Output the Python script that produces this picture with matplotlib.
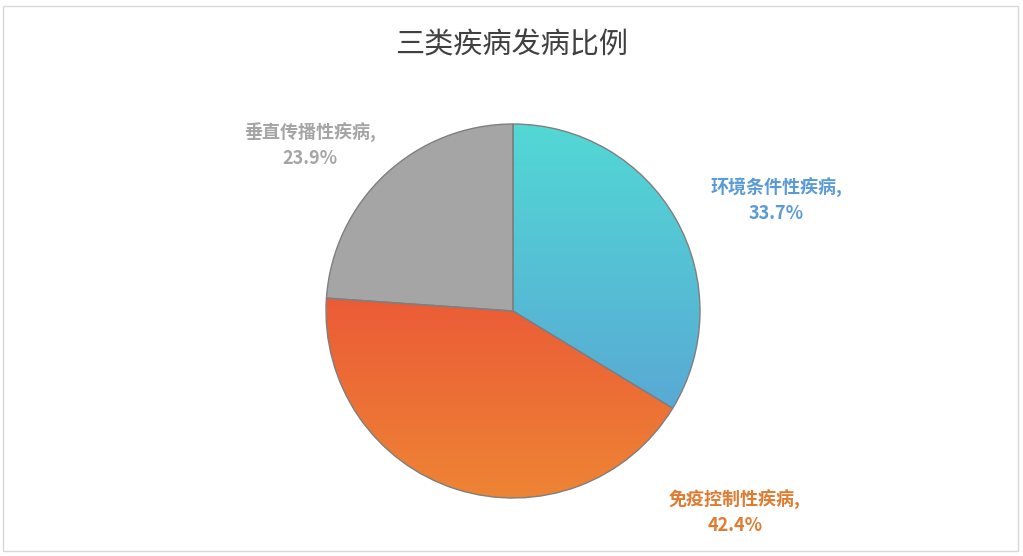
import matplotlib
matplotlib.use("Agg")
import matplotlib.pyplot as plt
import numpy as np
from matplotlib.patches import Rectangle
from matplotlib.colors import LinearSegmentedColormap

plt.rcParams['font.family'] = ['Noto Sans CJK SC', 'DejaVu Sans']

categories = ['环境条件性疾病', '免疫控制性疾病', '垂直传播性疾病']
values = [33.7, 42.4, 23.9]
title = '三类疾病发病比例'

W, H = 1023, 556
fig = plt.figure(figsize=(W/100, H/100), dpi=100)
ax = fig.add_axes([0, 0, 1, 1])
cx, cy, R = 513, 556-311, 187
wedges, _ = ax.pie(values, center=(cx, cy), radius=R, startangle=90,
                   counterclock=False, frame=True,
                   wedgeprops=dict(edgecolor='#7f7f7f', linewidth=1.0))
grads = [('#52d8d4', '#5b9bd5'), ('#e8383a', '#ee8434'), ('#a5a5a5', '#a5a5a5')]
ys = np.linspace(0, 1, 256).reshape(-1, 1)
for w, (c1, c2) in zip(wedges, grads):
    w.set_facecolor('none')
    cmap = LinearSegmentedColormap.from_list('g', [c2, c1])
    im = ax.imshow(np.tile(ys, (1, 2)), cmap=cmap, origin='lower',
                   extent=[cx-R, cx+R, cy-R, cy+R], aspect='auto', zorder=0)
    im.set_clip_path(w)
ax.set_xlim(0, W); ax.set_ylim(0, H)
ax.set_aspect('auto')
ax.axis('off')
ax.add_patch(Rectangle((3, 5), 1015, 545, fill=False, edgecolor='#d9d9d9', lw=1))

ax.text(512, 556-45, title, ha='center', va='center', fontsize=21, color='#404040')
lab = [(776, 556-200, '#5b9bd5'), (735, 556-512, '#e07b30'), (310, 556-145, '#a5a5a5')]
for (x, y, c), cat, v in zip(lab, categories, values):
    ax.text(x, y, f'{cat},\n{v:.1f}%', ha='center', va='center', fontsize=13,
            color=c, fontweight='bold', linespacing=1.4)
fig.savefig('out.png', dpi=100)
